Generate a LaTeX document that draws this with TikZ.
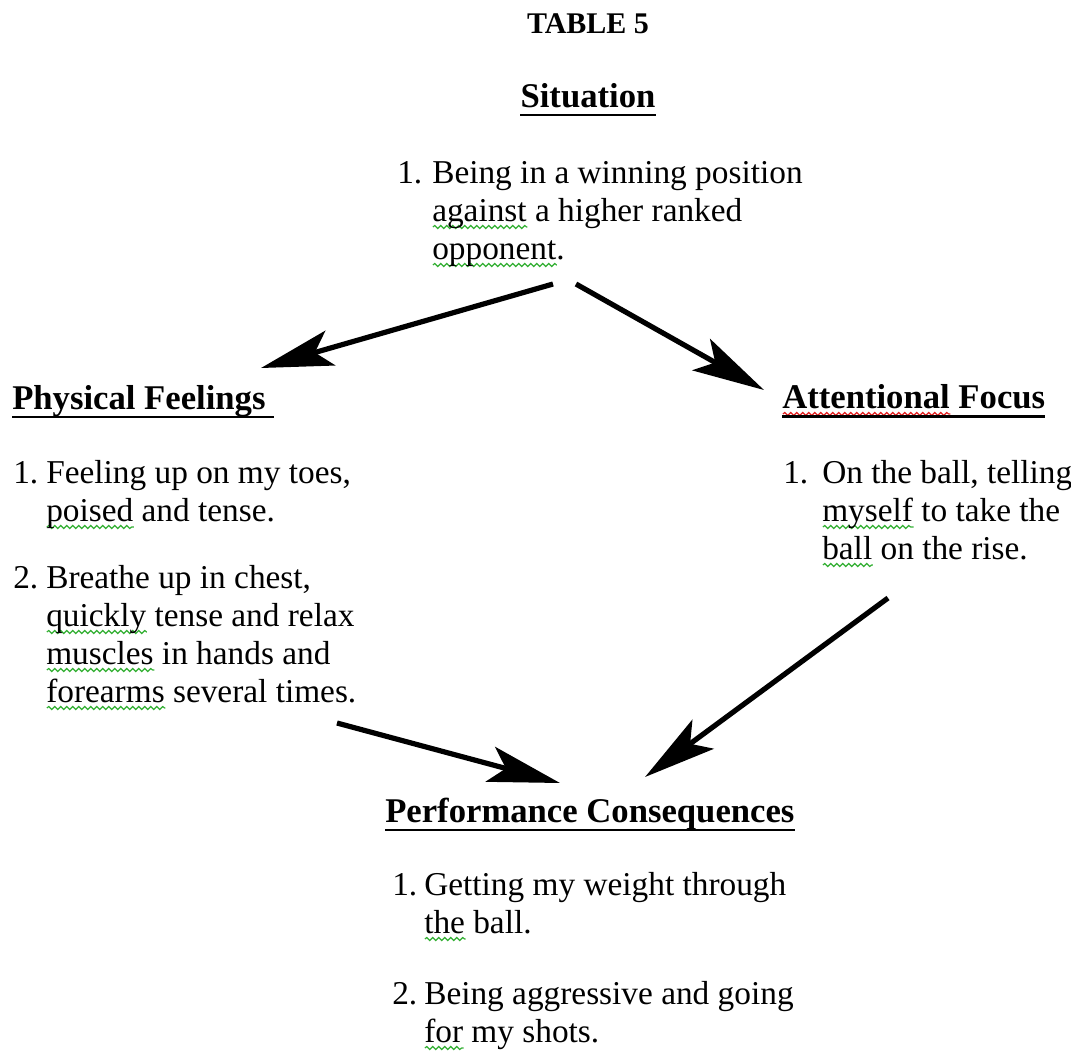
\documentclass[tikz,border=0pt]{standalone}
\usepackage{fontspec}
\setmainfont{Liberation Serif}
\usepackage{xcolor}
\usepackage{tikz}
\usetikzlibrary{arrows.meta, decorations.pathmorphing}
\definecolor{spellgrn}{RGB}{50,175,50}
\definecolor{spellred}{RGB}{225,30,30}
\newsavebox\sqbox
% word with a spell-check wave under it
\newcommand\sqwave[2]{\sbox\sqbox{#2}%
  \rlap{\tikz[x=1pt, y=1pt, baseline=0pt]{\draw[#1, line width=0.9pt, decorate,
    decoration={snake, amplitude=1.1pt, segment length=4.5pt}]
    (0pt,-4.5pt) -- (\wd\sqbox,-4.5pt);}}\usebox\sqbox}
\newcommand\sqg[1]{\sqwave{spellgrn}{#1}}
\newcommand\sqr[1]{\sqwave{spellred}{#1}}

\begin{document}
\begin{tikzpicture}[x=0.75pt, y=-0.75pt,
  txt/.style={inner sep=0pt, anchor=base west, font=\fontsize{25}{28.5}\selectfont},
  hd/.style={inner sep=0pt, anchor=base west, font=\fontsize{26}{28.5}\selectfont\bfseries},
  uln/.style={line width=1.8pt},
  arr/.style={-{Stealth[length=54pt, width=27pt, inset=12pt]}, line width=3.9pt}
]
\useasboundingbox (0,0) rectangle (1071,1051);

% headings
\node[hd, anchor=base, font=\fontsize{22.5}{28.5}\selectfont\bfseries] (tab) at (588,33) {TABLE 5};
\node[hd, anchor=base] (sith) at (588,107) {Situation};
\node[hd] (pfh) at (12,409) {Physical Feelings};
\node[hd] (afh) at (782,408) {\sqr{Attentional} Focus};
\node[hd] (pch) at (385,822) {Performance Consequences};

\draw[uln] ([yshift=-6pt]sith.base west) -- ([yshift=-6pt]sith.base east);
\draw[uln] ([yshift=-6pt]pfh.base west) -- ([yshift=-6pt, xshift=6pt]pfh.base east);
\draw[uln] ([yshift=-6.5pt]afh.base west) -- ([yshift=-6.5pt]afh.base east);
\draw[uln] ([yshift=-6pt]pch.base west) -- ([yshift=-6pt]pch.base east);

% situation
\node[txt] (sitn) at (397,183) {1.};
\node[txt] (sit) at (432,183) {\begin{tabular}[t]{@{}l@{}}Being in a winning position\\
  \sqg{against} a higher ranked\\ \sqg{opponent}.\end{tabular}};

% physical feelings
\node[txt] (pfn1) at (13,483) {1.};
\node[txt] (pf1) at (46,483) {\begin{tabular}[t]{@{}l@{}}Feeling up on my toes,\\
  \sqg{poised} and tense.\end{tabular}};
\node[txt] (pfn2) at (13,588) {2.};
\node[txt] (pf2) at (46,588) {\begin{tabular}[t]{@{}l@{}}Breathe up in chest,\\
  \sqg{quickly} tense and relax\\ \sqg{muscles} in hands and\\
  \sqg{forearms} several times.\end{tabular}};

% attentional focus
\node[txt] (afn1) at (783,483) {1.};
\node[txt] (af1) at (822,483) {\begin{tabular}[t]{@{}l@{}}On the ball, telling\\
  \sqg{myself} to take the\\ \sqg{ball} on the rise.\end{tabular}};

% performance consequences
\node[txt] (pcn1) at (392,895) {1.};
\node[txt] (pc1) at (424,895) {\begin{tabular}[t]{@{}l@{}}Getting my weight through\\
  \sqg{the} ball.\end{tabular}};
\node[txt] (pcn2) at (392,1004) {2.};
\node[txt] (pc2) at (424,1004) {\begin{tabular}[t]{@{}l@{}}Being aggressive and going\\
  \sqg{for} my shots.\end{tabular}};

% arrows
\coordinate (sitL) at (553,284);
\coordinate (sitR) at (576,284);
\coordinate (pfT) at (261,368);
\coordinate (afT) at (764,390);
\coordinate (pfB) at (337,723);
\coordinate (afB) at (888,598);
\coordinate (pcL) at (560,783);
\coordinate (pcR) at (645,777);

\draw[arr] (sitL) -- (pfT);
\draw[arr] (sitR) -- (afT);
\draw[arr] (pfB) -- (pcL);
\draw[arr] (afB) -- (pcR);
\end{tikzpicture}
\end{document}
